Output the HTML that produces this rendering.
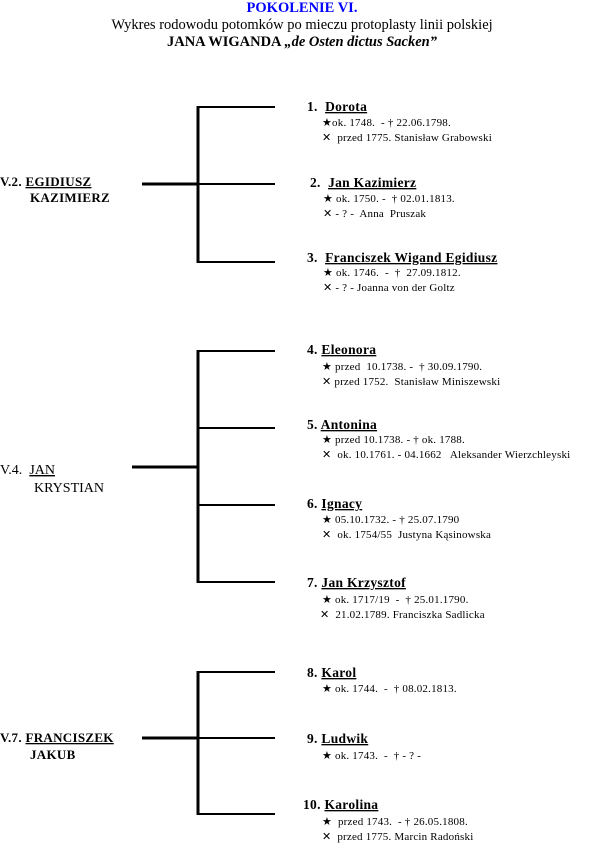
<!DOCTYPE html>
<html><head><meta charset="utf-8"><style>
html,body{margin:0;padding:0;background:#fff;width:605px;height:859px;overflow:hidden}
svg{display:block}
text{font-family:"Liberation Serif","DejaVu Serif",serif;fill:#000;white-space:pre}
.n{font-size:13.5px;font-weight:bold;letter-spacing:0.3px}
.d{font-size:11px;letter-spacing:0.2px}
.u{text-decoration:underline}
</style></head><body>
<svg width="605" height="859" xmlns="http://www.w3.org/2000/svg" xml:space="preserve">
<text x="302" y="12" text-anchor="middle" font-size="14.5" font-weight="bold" style="fill:#0000ff">POKOLENIE VI.</text>
<text x="302" y="29" text-anchor="middle" font-size="14.5">Wykres rodowodu potomków po mieczu protoplasty linii polskiej</text>
<text x="302" y="46" text-anchor="middle" font-size="14.5" font-weight="bold">JANA WIGANDA <tspan font-style="italic">„de Osten dictus Sacken”</tspan></text>

<g stroke="#000" fill="none">
<line x1="198" y1="106" x2="198" y2="263" stroke-width="3"/>
<line x1="198" y1="107" x2="275" y2="107" stroke-width="2"/>
<line x1="198" y1="184" x2="275" y2="184" stroke-width="2"/>
<line x1="198" y1="262" x2="275" y2="262" stroke-width="2"/>
<line x1="142" y1="184" x2="198" y2="184" stroke-width="3"/>

<line x1="198" y1="350" x2="198" y2="583" stroke-width="3"/>
<line x1="198" y1="351" x2="275" y2="351" stroke-width="2"/>
<line x1="198" y1="428" x2="275" y2="428" stroke-width="2"/>
<line x1="198" y1="505" x2="275" y2="505" stroke-width="2"/>
<line x1="198" y1="582" x2="275" y2="582" stroke-width="2"/>
<line x1="132" y1="467" x2="198" y2="467" stroke-width="3"/>

<line x1="198" y1="671" x2="198" y2="815" stroke-width="3"/>
<line x1="198" y1="672" x2="275" y2="672" stroke-width="2"/>
<line x1="198" y1="738" x2="275" y2="738" stroke-width="2"/>
<line x1="198" y1="814" x2="275" y2="814" stroke-width="2"/>
<line x1="142" y1="738" x2="198" y2="738" stroke-width="3"/>
</g>

<text x="0" y="186" class="n" style="font-size:13px">V.2. <tspan class="u">EGIDIUSZ</tspan></text>
<text x="30" y="202" class="n" style="font-size:13px">KAZIMIERZ</text>
<text x="0" y="474" font-size="14">V.4.  <tspan class="u">JAN</tspan></text>
<text x="34" y="492" font-size="14">KRYSTIAN</text>
<text x="0" y="742" class="n" style="font-size:13px">V.7. <tspan class="u">FRANCISZEK</tspan></text>
<text x="30" y="759" class="n" style="font-size:13px">JAKUB</text>

<text x="307" y="111" class="n">1.  <tspan class="u">Dorota</tspan></text>
<text x="322" y="126" class="d">★ok. 1748.  - † 22.06.1798.</text>
<text x="322" y="141" class="d">✕  przed 1775. Stanisław Grabowski</text>

<text x="310" y="187" class="n">2.  <tspan class="u">Jan Kazimierz</tspan></text>
<text x="323" y="202" class="d">★ ok. 1750. -  † 02.01.1813.</text>
<text x="323" y="217" class="d">✕ - ? -  Anna  Pruszak</text>

<text x="307" y="262" class="n">3.  <tspan class="u">Franciszek Wigand Egidiusz</tspan></text>
<text x="323" y="276" class="d">★ ok. 1746.  -  †  27.09.1812.</text>
<text x="323" y="291" class="d">✕ - ? - Joanna von der Goltz</text>

<text x="307" y="354" class="n">4. <tspan class="u">Eleonora</tspan></text>
<text x="322" y="370" class="d">★ przed  10.1738. -  † 30.09.1790.</text>
<text x="322" y="385" class="d">✕ przed 1752.  Stanisław Miniszewski</text>

<text x="307" y="429" class="n">5. <tspan class="u">Antonina</tspan></text>
<text x="322" y="443" class="d">★ przed 10.1738. - † ok. 1788.</text>
<text x="322" y="458" class="d">✕  ok. 10.1761. - 04.1662   Aleksander Wierzchleyski</text>

<text x="307" y="508" class="n">6. <tspan class="u">Ignacy</tspan></text>
<text x="322" y="523" class="d">★ 05.10.1732. - † 25.07.1790</text>
<text x="322" y="538" class="d">✕  ok. 1754/55  Justyna Kąsinowska</text>

<text x="307" y="587" class="n">7. <tspan class="u">Jan Krzysztof</tspan></text>
<text x="322" y="603" class="d">★ ok. 1717/19  -  † 25.01.1790.</text>
<text x="320" y="618" class="d">✕  21.02.1789. Franciszka Sadlicka</text>

<text x="307" y="677" class="n">8. <tspan class="u">Karol</tspan></text>
<text x="322" y="692" class="d">★ ok. 1744.  -  † 08.02.1813.</text>

<text x="307" y="743" class="n">9. <tspan class="u">Ludwik</tspan></text>
<text x="322" y="759" class="d">★ ok. 1743.  -  † - ? -</text>

<text x="303" y="809" class="n">10. <tspan class="u">Karolina</tspan></text>
<text x="322" y="825" class="d">★  przed 1743.  - † 26.05.1808.</text>
<text x="322" y="840" class="d">✕  przed 1775. Marcin Radoński</text>
</svg>
</body></html>
